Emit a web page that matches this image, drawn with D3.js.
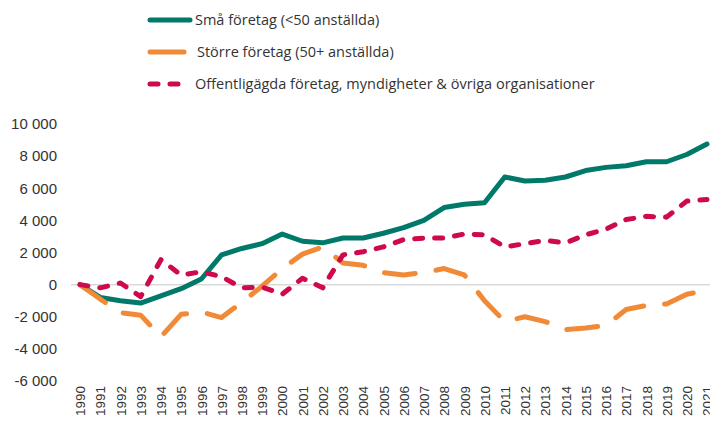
<!DOCTYPE html>
<html>
<head>
<meta charset="utf-8">
<script src="https://cdn.jsdelivr.net/npm/d3@7"></script>
<style>
  body { margin: 0; background: #fff; }
  svg { display: block; }
</style>
</head>
<body>
<svg></svg>
<script>
const width = 710;
const height = 421;

// data
const years = d3.range(1990, 2022).map(String);
const smallFirms = [0, -800, -1000, -1150, -700, -250, 350, 1850, 2250, 2550, 3150, 2700, 2600, 2900, 2900, 3200, 3550, 4000, 4800, 5000, 5100,
  6700, 6450, 6500, 6700, 7100, 7300, 7400, 7650, 7650, 8100, 8750];
const largerFirms = [0, -900, -1750, -1900, -3250, -1850, -1700, -2050, -1100, -100, 1000, 1900, 2350, 1350, 1200, 750, 600, 750, 1000, 600, -1000,
  -2300, -2000, -2300, -2800, -2700, -2550, -1550, -1300, -1200, -600, -350];
const publicOrgs = [0, -200, 100, -750, 1550, 600, 800, 500, -200, -150, -600, 400, -200, 1850, 2050, 2350, 2800, 2900, 2900, 3150, 3100,
  2350, 2550, 2750, 2600, 3100, 3450, 4050, 4250, 4200, 5200, 5300];
const yTicks = [-6000, -4000, -2000, 0, 2000, 4000, 6000, 8000, 10000];

const series = [
  {name: "Små företag (<50 anställda)", values: smallFirms, color: "#00796a", dash: null},
  {name: "Större företag (50+ anställda)", values: largerFirms, color: "#f08a36", dash: "31,21"},
  {name: "Offentligägda företag, myndigheter & övriga organisationer", values: publicOrgs, color: "#cf0a4c", dash: "8,12"}
];

const svg = d3.select("svg")
  .attr("width", width)
  .attr("height", height);

const x = d3.scalePoint()
  .domain(years)
  .range([80, 707]);

const y = d3.scaleLinear()
  .domain([-6000, 10000])
  .range([381, 124]);

const fmt = d => d3.format(",")(d).replace(/,/g, " ").replace("−", "-");

// y axis labels
svg.append("g")
  .attr("transform", "translate(57,0)")
  .call(d3.axisLeft(y).tickValues(yTicks).tickSize(0).tickPadding(0).tickFormat(fmt))
  .call(g => g.select(".domain").remove())
  .call(g => g.selectAll("text")
    .attr("font-family", "Liberation Sans, Arial, sans-serif")
    .attr("font-size", "15px")
    .attr("fill", "#333"));

// zero line
svg.append("line")
  .attr("x1", 71)
  .attr("x2", 710)
  .attr("y1", y(0))
  .attr("y2", y(0))
  .attr("stroke", "#d9d9d9")
  .attr("stroke-width", 1.5);

// x axis labels
svg.append("g")
  .attr("transform", "translate(0,386)")
  .call(d3.axisBottom(x).tickSize(0).tickPadding(0))
  .call(g => g.select(".domain").remove())
  .call(g => g.selectAll("text")
    .attr("font-family", "Liberation Sans, Arial, sans-serif")
    .attr("font-size", "13.5px")
    .attr("fill", "#333")
    .attr("transform", "rotate(-90)")
    .attr("text-anchor", "end")
    .attr("x", 0)
    .attr("y", 0)
    .attr("dy", "0.35em"));

const line = d3.line()
  .x((d, i) => x(years[i]))
  .y(d => y(d));

svg.append("g")
  .selectAll("path")
  .data(series)
  .enter()
  .append("path")
  .attr("d", d => line(d.values))
  .attr("fill", "none")
  .attr("stroke", d => d.color)
  .attr("stroke-width", 5)
  .attr("stroke-linecap", "round")
  .attr("stroke-linejoin", "round")
  .attr("stroke-dasharray", d => d.dash);

// legend
const legend = svg.append("g")
  .selectAll("g")
  .data(series)
  .enter()
  .append("g")
  .attr("transform", (d, i) => "translate(0," + (20 + i * 32) + ")");

legend.append("line")
  .attr("x1", 150)
  .attr("x2", (d, i) => i === 1 ? 184 : 190)
  .attr("stroke", d => d.color)
  .attr("stroke-width", 5)
  .attr("stroke-linecap", "round")
  .attr("stroke-dasharray", (d, i) => i === 2 ? "8,12" : null);

legend.append("text")
  .attr("x", (d, i) => i === 1 ? 197 : 195)
  .attr("dy", "0.35em")
  .attr("font-family", "Open Sans, sans-serif")
  .attr("font-size", "14.5px")
  .attr("fill", "#333")
  .text(d => d.name);
</script>
</body>
</html>
